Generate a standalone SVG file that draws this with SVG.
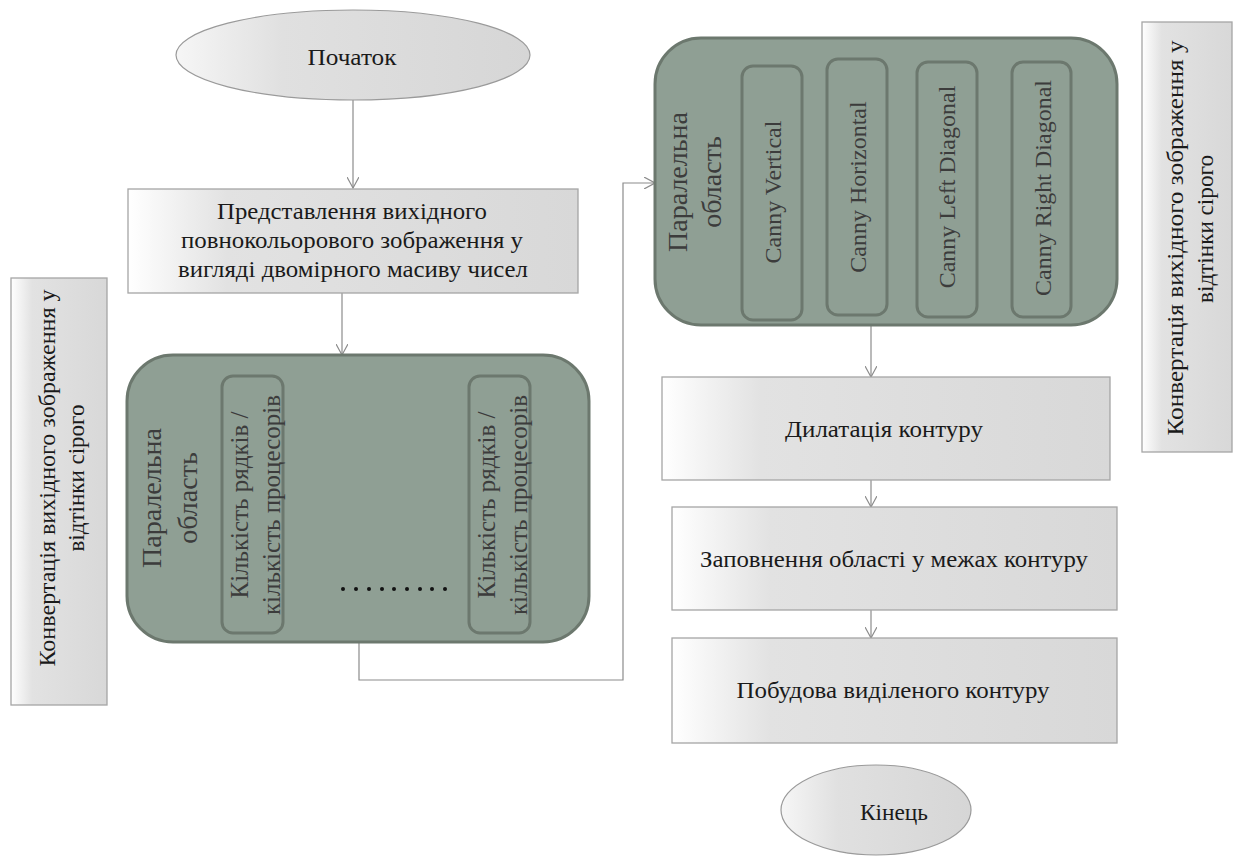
<svg xmlns="http://www.w3.org/2000/svg" width="1240" height="858" viewBox="0 0 1240 858">
  <defs>
    <linearGradient id="boxFill" x1="0" y1="0" x2="1" y2="0">
      <stop offset="0" stop-color="#ffffff"/>
      <stop offset="0.22" stop-color="#e2e2e2"/>
      <stop offset="1" stop-color="#d8d8d8"/>
    </linearGradient>
    <linearGradient id="ovalFill" x1="0" y1="0" x2="1" y2="0">
      <stop offset="0" stop-color="#f6f6f6"/>
      <stop offset="0.3" stop-color="#e0e0e0"/>
      <stop offset="1" stop-color="#d6d6d6"/>
    </linearGradient>
    <marker id="arrow" viewBox="0 0 12 12" refX="11" refY="6" markerWidth="12" markerHeight="12" markerUnits="userSpaceOnUse" orient="auto">
      <path d="M0,0 L11,6 L0,12" fill="none" stroke="#8c8c8c" stroke-width="1.2"/>
    </marker>
  </defs>
  <style>
    .box { fill: url(#boxFill); stroke: #a5a5a5; stroke-width: 1.3; }
    .oval { fill: url(#ovalFill); stroke: #9a9a9a; stroke-width: 1.2; }
    .region { fill: #8f9f94; stroke: #6c786e; stroke-width: 3; }
    .lane { fill: none; stroke: #6c786e; stroke-width: 3; }
    .t { font-family: "Liberation Serif", "Times New Roman", serif; fill: #1a1a1a; font-size: 24px; text-anchor: middle; }
    .rt { font-family: "Liberation Serif", "Times New Roman", serif; fill: #3c3c3c; text-anchor: middle; }
    .conn { fill: none; stroke: #8c8c8c; stroke-width: 1.2; }
  </style>
  <rect width="1240" height="858" fill="#ffffff"/>

  <!-- connectors -->
  <g id="connectors">
    <path class="conn" d="M353,100 V188" marker-end="url(#arrow)"/>
    <path class="conn" d="M342,293 V355" marker-end="url(#arrow)"/>
    <path class="conn" d="M359,643 V680 H623 V183 H655" marker-end="url(#arrow)"/>
    <path class="conn" d="M871,325 V377" marker-end="url(#arrow)"/>
    <path class="conn" d="M871,480 V507" marker-end="url(#arrow)"/>
    <path class="conn" d="M871,610 V638" marker-end="url(#arrow)"/>
  </g>

  <!-- start -->
  <g id="start">
    <ellipse class="oval" cx="353" cy="55" rx="177" ry="45"/>
    <text class="t" x="352" y="65" textLength="89" lengthAdjust="spacingAndGlyphs">Початок</text>
  </g>

  <!-- array representation -->
  <g id="represent">
    <rect class="box" x="128" y="189" width="450" height="104"/>
    <text class="t" x="352" y="219" textLength="270" lengthAdjust="spacingAndGlyphs">Представлення вихідного</text>
    <text class="t" x="352" y="248" textLength="342" lengthAdjust="spacingAndGlyphs">повнокольорового зображення у</text>
    <text class="t" x="353" y="277" textLength="350" lengthAdjust="spacingAndGlyphs">вигляді двомірного масиву чисел</text>
  </g>

  <!-- grayscale conversion, left -->
  <g id="gray-left">
    <rect class="box" x="11" y="278" width="96" height="427"/>
    <g transform="translate(0,478) rotate(-90)">
      <text class="t" x="0" y="55" textLength="377" lengthAdjust="spacingAndGlyphs">Конвертація вихідного зображення у</text>
      <text class="t" x="0" y="84" textLength="147" lengthAdjust="spacingAndGlyphs">відтінки сірого</text>
    </g>
  </g>

  <!-- parallel region: rows per processor -->
  <g id="parallel-rows">
    <rect class="region" x="127" y="355" width="462" height="287" rx="46" ry="46"/>
    <g transform="translate(0,498) rotate(-90)">
      <text class="rt" x="0" y="161" font-size="28">Паралельна</text>
      <text class="rt" x="0" y="197" font-size="28">область</text>
    </g>
    <rect class="lane" x="222" y="376" width="61" height="257" rx="11" ry="11"/>
    <g transform="translate(0,505) rotate(-90)">
      <text class="rt" x="0" y="248" font-size="25">Кількість рядків /</text>
      <text class="rt" x="0" y="280" font-size="25">кількість процесорів</text>
    </g>
    <rect class="lane" x="469" y="376" width="61" height="257" rx="11" ry="11"/>
    <g transform="translate(0,505) rotate(-90)">
      <text class="rt" x="0" y="495" font-size="25">Кількість рядків /</text>
      <text class="rt" x="0" y="527" font-size="25">кількість процесорів</text>
    </g>
    <g fill="#111111">
      <circle cx="343" cy="589" r="2"/>
      <circle cx="356" cy="589" r="2"/>
      <circle cx="369" cy="589" r="2"/>
      <circle cx="382" cy="589" r="2"/>
      <circle cx="394" cy="589" r="2"/>
      <circle cx="407" cy="589" r="2"/>
      <circle cx="420" cy="589" r="2"/>
      <circle cx="432" cy="589" r="2"/>
      <circle cx="445" cy="589" r="2"/>
    </g>
  </g>

  <!-- parallel region: Canny directions -->
  <g id="parallel-canny">
    <rect class="region" x="655" y="38" width="462" height="287" rx="46" ry="46"/>
    <g transform="translate(0,182) rotate(-90)">
      <text class="rt" x="0" y="687" font-size="28">Паралельна</text>
      <text class="rt" x="0" y="721" font-size="28">область</text>
    </g>
    <rect class="lane" x="742" y="66" width="60" height="254" rx="11" ry="11"/>
    <rect class="lane" x="827" y="59" width="60" height="256" rx="11" ry="11"/>
    <rect class="lane" x="917" y="62" width="60" height="255" rx="11" ry="11"/>
    <rect class="lane" x="1012" y="62" width="59" height="255" rx="11" ry="11"/>
    <text class="rt" font-size="24" transform="translate(781,192) rotate(-90)">Canny Vertical</text>
    <text class="rt" font-size="24" transform="translate(866,187) rotate(-90)">Canny Horizontal</text>
    <text class="rt" font-size="24" transform="translate(955,187) rotate(-90)">Canny Left Diagonal</text>
    <text class="rt" font-size="24" transform="translate(1051,188) rotate(-90)">Canny Right Diagonal</text>
  </g>

  <!-- grayscale conversion, right -->
  <g id="gray-right">
    <rect class="box" x="1142" y="22" width="90" height="430"/>
    <g transform="translate(0,238) rotate(-90)">
      <text class="t" x="0" y="1183" textLength="395" lengthAdjust="spacingAndGlyphs">Конвертація вихідного зображення у</text>
      <text class="t" x="9" y="1213" textLength="148" lengthAdjust="spacingAndGlyphs">відтінки сірого</text>
    </g>
  </g>

  <!-- dilation -->
  <g id="dilate">
    <rect class="box" x="662" y="377" width="448" height="103"/>
    <text class="t" x="884" y="437" textLength="198" lengthAdjust="spacingAndGlyphs">Дилатація  контуру</text>
  </g>

  <!-- fill -->
  <g id="fill">
    <rect class="box" x="672" y="507" width="445" height="103"/>
    <text class="t" x="894" y="567" textLength="388" lengthAdjust="spacingAndGlyphs">Заповнення області у межах контуру</text>
  </g>

  <!-- build contour -->
  <g id="build">
    <rect class="box" x="672" y="638" width="445" height="105"/>
    <text class="t" x="893" y="698" textLength="313" lengthAdjust="spacingAndGlyphs">Побудова виділеного  контуру</text>
  </g>

  <!-- end -->
  <g id="end">
    <ellipse class="oval" cx="876" cy="810" rx="95" ry="45"/>
    <text class="t" x="894" y="820" textLength="68" lengthAdjust="spacingAndGlyphs">Кінець</text>
  </g>
</svg>
